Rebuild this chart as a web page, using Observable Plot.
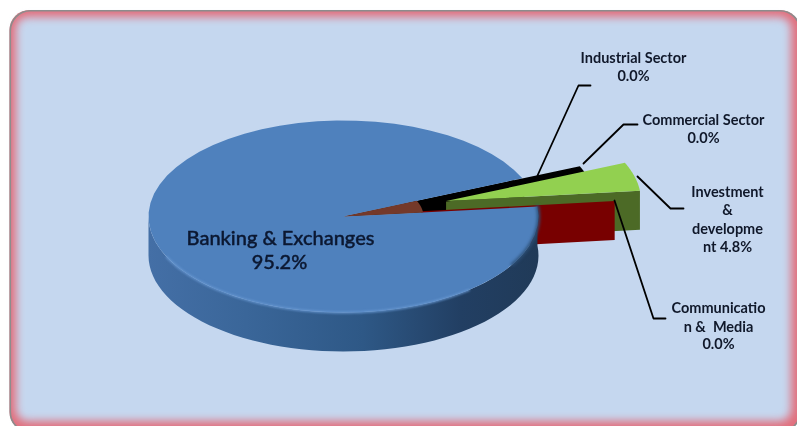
<!DOCTYPE html>
<html><head><meta charset="utf-8">
<style>html,body{margin:0;padding:0;background:#fff;overflow:hidden}svg{display:block}</style>
<script src="https://cdn.jsdelivr.net/npm/d3@7"></script>
<script src="https://cdn.jsdelivr.net/npm/@observablehq/plot@0.6"></script>
</head><body><div id="chart"></div>
<script>
// Printed labels
const categories = ["Banking & Exchanges","Communication & Media","Investment & development","Commercial Sector","Industrial Sector"];
const printed = ["95.2%","0.0%","4.8%","0.0%","0.0%"];
// Shares (percent of the full turn); the 0.0% slices are slivers
const banking = 95.2, communication = 0.05, investment = 4.8, commercial = 1.2, industrial = 2.6;

// pie geometry (chart units = px)
const C = {x:343,y:216}, rx = 195, ry = 96, depth = 39;
const endA = 6;
const rad = d => d*Math.PI/180;
const pt = (a,r=1,e=0,em=a,dy=0) => ({
  x: C.x + e*Math.cos(rad(em))*rx + r*rx*Math.cos(rad(a)),
  y: C.y - e*Math.sin(rad(em))*ry - r*ry*Math.sin(rad(a)) + dy
});
const arc = (a0,a1,r=1,e=0,em=(a0+a1)/2,dy=0) => d3.range(0,61).map(i=>pt(a0+(a1-a0)*i/60,r,e,em,dy));
const poly = (pts,fill,o={}) => Plot.line(pts,{x:"x",y:"y",fill,stroke:"none",...o});
const sweep = v => v*3.6;

const topA = endA + sweep(investment) + sweep(communication);
const bankTop = [C, ...arc(topA,360+endA)];
const wallTop = arc(180,360+endA), wallBot = arc(180,360+endA,1,0,0,depth).reverse();
const bankWall = [...wallTop,...wallBot];
// exploded investment
const invA0 = endA + sweep(communication), invA1 = invA0 + sweep(investment);
const invE = 0.55, invM = 17;
const invTop = [pt(0,0,invE,invM), ...arc(invA0,invA1,1,invE,invM)];
const invWall = [pt(0,0,invE,invM), pt(invA0,1,invE,invM), pt(invA0,1,invE,invM,depth), pt(0,0,invE,invM,depth)];
// exploded communication: only its radial wall shows
const comE = 0.4, comM = 8;
const comWall = [pt(0,0,comE,comM), pt(endA,1,comE,comM), pt(endA,1,comE,comM,depth), pt(0,0,comE,comM,depth)];
// dark slivers in the opening of the pie
const backing = [C, ...arc(endA,topA,0.95)];
const cEnd = topA, cStart = cEnd - sweep(commercial);
const comlTop = [pt(0,0,0.32,23), ...arc(cStart,cEnd,1,0.32,23)];
const indTop = [pt(0,0,0.22,20), ...arc(cEnd-sweep(industrial),cEnd-1.5,0.95,0.22,20)];
const brownTop = [C, ...arc(endA,topA,0.41)];

const labels = [
  {t:"Industrial Sector",x:633,y:58},{t:printed[4],x:633,y:76},
  {t:"Commercial Sector",x:703,y:120},{t:printed[3],x:703,y:138},
  {t:"Investment",x:727,y:192},{t:"&",x:727,y:210},{t:"developme",x:727,y:229},{t:"nt "+printed[2],x:727,y:247},
  {t:"Communicatio",x:718,y:308},{t:"n &  Media",x:718,y:327},{t:printed[1],x:718,y:344}
];
const mainLabels = [{t:categories[0],x:280,y:238},{t:printed[0],x:279,y:262}];
const leaders = [
  [[537,175],[578,85],[590,85]],
  [[583,163],[623,124],[637,124]],
  [[637,176],[670,208],[683,208]],
  [[614,200],[653,318],[665,318]]
].flatMap((l,i)=>l.map(([x,y])=>({x,y,i})));

const font = "Lato, 'Noto Sans', sans-serif";
const chart = Plot.plot({
  width:797,height:426,margin:0,
  x:{domain:[0,797],range:[0,797],axis:null},
  y:{domain:[0,426],range:[0,426],axis:null},
  style:{background:"#fff",fontFamily:font,overflow:"hidden"},
  marks:[
    Plot.rect([{}],{x1:()=>9.5,x2:()=>800,y1:()=>10,y2:()=>432,rx:20,fill:"#e2707e"}),
    Plot.rect([{}],{x1:()=>16,x2:()=>791,y1:()=>17,y2:()=>421,rx:12,fill:"#c5d7ef",imageFilter:"blur(4px)"}),
    Plot.rect([{}],{x1:()=>10.3,x2:()=>800,y1:()=>10.8,y2:()=>432,rx:20,fill:"none",stroke:"#8c8c8c",strokeWidth:1.6}),
    poly(backing,"#000"),
    poly(invWall,"#4c6a26"),
    poly(comWall,"#780000"),
    poly(bankWall,"url(#wallGrad)"),
    poly(bankTop,"#4f81bd"),
    Plot.line(arc(205,310),{x:"x",y:"y",stroke:"#6696d0",strokeWidth:2,imageFilter:"blur(1.2px)"}),
    Plot.line(arc(-30,6),{x:"x",y:"y",stroke:"#2c5078",strokeWidth:3,imageFilter:"blur(1.5px)"}),
    poly(indTop,"#000"),
    poly(comlTop,"#000"),
    poly(brownTop,"#74392a"),
    poly(invTop,"#92d050"),
    Plot.line(leaders,{x:"x",y:"y",z:"i",stroke:"#000",strokeWidth:1.8}),
    Plot.text(labels,{x:"x",y:"y",text:"t",fontSize:14.5,fontWeight:700,fill:"#10182a",textAnchor:"middle",imageFilter:"blur(0.35px)"}),
    Plot.text(mainLabels,{x:"x",y:"y",text:"t",fontSize:20,fontWeight:500,fill:"#0b1730",stroke:"#0b1730",strokeWidth:0.4,textAnchor:"middle",imageFilter:"blur(0.3px)"})
  ]
});
const ns="http://www.w3.org/2000/svg";
const defs=document.createElementNS(ns,"defs");
defs.innerHTML=`<linearGradient id="wallGrad" x1="0" x2="1" y1="0" y2="0">
<stop offset="0" stop-color="#446fa6"/><stop offset="0.25" stop-color="#3a6699"/><stop offset="0.55" stop-color="#2e5886"/><stop offset="0.8" stop-color="#223f63"/><stop offset="1" stop-color="#203a58"/></linearGradient>`;
chart.insertBefore(defs,chart.firstChild);
document.getElementById("chart").appendChild(chart);
</script></body></html>
